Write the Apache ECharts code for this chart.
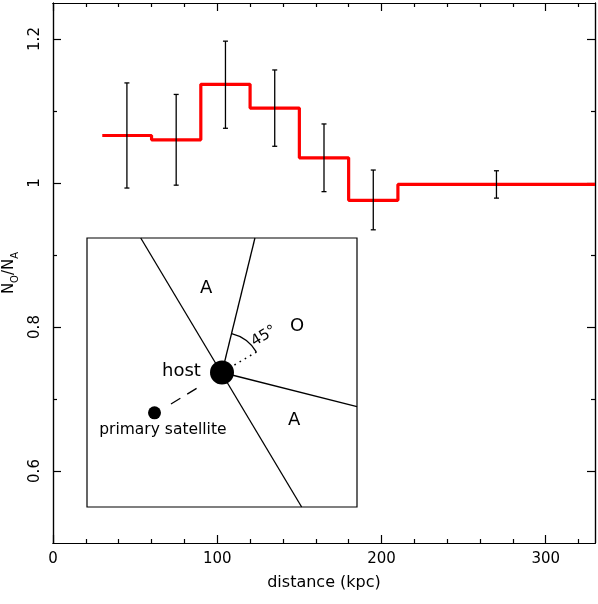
<!DOCTYPE html>
<html>
<head>
<meta charset="utf-8">
<script src="https://cdn.jsdelivr.net/npm/echarts@6/dist/echarts.min.js"></script>
<style>
  html, body { margin: 0; padding: 0; background: #fff; }
  #main { width: 598px; height: 604px; }
</style>
</head>
<body>
<div id="main"></div>
<script>
// step histogram: bin edges (kpc) and N_O/N_A per bin
var binEdges = [30, 60, 90, 120, 150, 180, 210, 330]
var ratio = [1.066, 1.060, 1.137, 1.104, 1.035, 0.976, 0.998]

// error bars
var errX = [45, 75, 105, 135, 165, 195, 270]
var errLow = [0.993, 0.997, 1.076, 1.051, 0.988, 0.935, 0.979]
var errHigh = [1.139, 1.123, 1.197, 1.157, 1.082, 1.018, 1.017]

// ticks
var xMajor = [0, 100, 200, 300]
var xMinor = [20, 40, 60, 80, 120, 140, 160, 180, 220, 240, 260, 280, 320]
var yMajor = [0.6, 0.8, 1.0, 1.2]
var yMinor = [0.7, 0.9, 1.1]

// inset sketch, in inset units (0..100 both ways)
var insetSolid = [[19.9, 100, 79.5, 0], [50, 50, 62.2, 100], [50, 50, 100, 37.3]]
var insetDashed = [[31.1, 38.3, 42.7, 45.4]]
var insetDotted = [[54.6, 52.8, 62.9, 57.7]]
var hostPos = [50, 50]
var satellitePos = [25, 35]
var arcAngles = [76, 31]
var insetLabels = [
  { name: 'A', value: [44.1, 81.4] },
  { name: 'O', value: [77.8, 67.3] },
  { name: 'A', value: [76.7, 32.3] }
]
var angleLabel = { name: '45°', value: [65.5, 63.5] }
var hostLabel = { name: 'host', value: [35.0, 50.3] }
var satLabel = { name: 'primary satellite', value: [28.1, 28.6] }

var FONT = 'DejaVu Sans'
var chart = echarts.init(document.getElementById('main'))

var stepData = binEdges.map(function (e, i) {
  return [e, ratio[Math.min(i, ratio.length - 1)]]
})
var errData = errX.map(function (x, i) {
  return [x, errLow[i], errHigh[i]]
})

function frameX (grid, pos, ticks, len, labels) {
  return {
    type: 'value', gridIndex: grid, position: pos, min: 0, max: 330,
    axisLine: { show: true, onZero: false, lineStyle: { color: '#000', width: 1.2 } },
    axisTick: { show: true, inside: true, length: len, customValues: ticks, lineStyle: { color: '#000', width: 1.2 } },
    axisLabel: labels ? { show: true, customValues: xMajor, margin: 9, fontSize: 15, color: '#000', fontFamily: FONT } : { show: false },
    splitLine: { show: false }
  }
}
function frameY (grid, pos, ticks, len, labels) {
  return {
    type: 'value', gridIndex: grid, position: pos, min: 0.5, max: 1.25,
    axisLine: { show: true, onZero: false, lineStyle: { color: '#000', width: 1.2 } },
    axisTick: { show: true, inside: true, length: len, customValues: ticks, lineStyle: { color: '#000', width: 1.2 } },
    axisLabel: labels ? { show: true, customValues: yMajor, rotate: 90, margin: 10, fontSize: 15, color: '#000', fontFamily: FONT } : { show: false },
    splitLine: { show: false }
  }
}

function segRender (dash, width) {
  return function (params, api) {
    var a = api.coord([api.value(0), api.value(1)])
    var b = api.coord([api.value(2), api.value(3)])
    return {
      type: 'line',
      shape: { x1: a[0], y1: a[1], x2: b[0], y2: b[1] },
      style: { stroke: '#000', lineWidth: width, lineDash: dash, fill: null }
    }
  }
}

var xAxes = [
  frameX(0, 'bottom', xMajor, 8, true),
  frameX(0, 'top', xMajor, 8, false),
  frameX(1, 'bottom', xMinor, 4, false),
  frameX(1, 'top', xMinor, 4, false),
  { type: 'value', gridIndex: 2, min: 0, max: 100, show: false }
]
xAxes[0].name = 'distance (kpc)'
xAxes[0].nameLocation = 'middle'
xAxes[0].nameGap = 32
xAxes[0].nameTextStyle = { fontSize: 16, color: '#000', fontFamily: FONT }

var yAxes = [
  frameY(0, 'left', yMajor, 8, true),
  frameY(0, 'right', yMajor, 8, false),
  frameY(1, 'left', yMinor, 4, false),
  frameY(1, 'right', yMinor, 4, false),
  { type: 'value', gridIndex: 2, min: 0, max: 100, show: false }
]
yAxes[0].name = '{n|N}{s|O}{n|/N}{s|A}'
yAxes[0].nameLocation = 'middle'
yAxes[0].nameRotate = 90
yAxes[0].nameGap = 30
yAxes[0].nameTextStyle = {
  color: '#000', fontFamily: FONT,
  rich: {
    n: { fontSize: 15, color: '#000', fontFamily: FONT, lineHeight: 18 },
    s: { fontSize: 10, color: '#000', fontFamily: FONT, verticalAlign: 'bottom', lineHeight: 22 }
  }
}

var textLabel = function (size) {
  return {
    show: true, position: 'inside', formatter: '{b}',
    fontSize: size, color: '#000', fontFamily: FONT
  }
}
var solid = { color: '#000', opacity: 1 }

chart.setOption({
  animation: false,
  backgroundColor: '#fff',
  grid: [
    { left: 53, top: 3, width: 542, height: 540, show: false, containLabel: false, outerBoundsMode: 'none' },
    { left: 53, top: 3, width: 542, height: 540, show: false, containLabel: false, outerBoundsMode: 'none' },
    { left: 87, top: 238, width: 270, height: 269, show: true, borderColor: '#000', borderWidth: 1.2, backgroundColor: 'transparent', containLabel: false, outerBoundsMode: 'none' }
  ],
  xAxis: xAxes,
  yAxis: yAxes,
  series: [
    {
      type: 'line', xAxisIndex: 0, yAxisIndex: 0,
      step: 'end', symbol: 'none', data: stepData,
      lineStyle: { color: '#ff0000', width: 3.2 }, z: 3
    },
    {
      type: 'custom', xAxisIndex: 0, yAxisIndex: 0, data: errData, z: 4,
      encode: { x: 0, y: [1, 2] },
      renderItem: function (params, api) {
        var x = api.value(0)
        var lo = api.coord([x, api.value(1)])
        var hi = api.coord([x, api.value(2)])
        var w = 2.5
        var st = { stroke: '#000', lineWidth: 1.3 }
        return {
          type: 'group',
          children: [
            { type: 'line', shape: { x1: lo[0], y1: lo[1], x2: hi[0], y2: hi[1] }, style: st },
            { type: 'line', shape: { x1: lo[0] - w, y1: lo[1], x2: lo[0] + w, y2: lo[1] }, style: st },
            { type: 'line', shape: { x1: hi[0] - w, y1: hi[1], x2: hi[0] + w, y2: hi[1] }, style: st }
          ]
        }
      }
    },
    {
      type: 'custom', xAxisIndex: 4, yAxisIndex: 4, data: insetSolid,
      renderItem: segRender(null, 1.3)
    },
    {
      type: 'custom', xAxisIndex: 4, yAxisIndex: 4, data: insetDashed,
      renderItem: segRender([11, 8], 1.3)
    },
    {
      type: 'custom', xAxisIndex: 4, yAxisIndex: 4, data: insetDotted,
      renderItem: segRender([1.6, 4.4], 1.6)
    },
    {
      type: 'custom', xAxisIndex: 4, yAxisIndex: 4, data: [hostPos],
      renderItem: function (params, api) {
        var c = api.coord([api.value(0), api.value(1)])
        return {
          type: 'arc',
          shape: { cx: c[0], cy: c[1], r: 40, startAngle: -arcAngles[0] * Math.PI / 180, endAngle: -arcAngles[1] * Math.PI / 180, clockwise: true },
          style: { stroke: '#000', lineWidth: 1.3, fill: null }
        }
      }
    },
    {
      type: 'scatter', xAxisIndex: 4, yAxisIndex: 4, data: [hostPos],
      symbol: 'circle', symbolSize: 24, itemStyle: solid, z: 5
    },
    {
      type: 'scatter', xAxisIndex: 4, yAxisIndex: 4, data: [satellitePos],
      symbol: 'circle', symbolSize: 13, itemStyle: solid, z: 5
    },
    {
      type: 'scatter', xAxisIndex: 4, yAxisIndex: 4, data: insetLabels,
      symbolSize: 0, itemStyle: solid, label: textLabel(18)
    },
    {
      type: 'scatter', xAxisIndex: 4, yAxisIndex: 4, data: [angleLabel],
      symbolSize: 0, itemStyle: solid, label: Object.assign(textLabel(15), { rotate: 31 })
    },
    {
      type: 'scatter', xAxisIndex: 4, yAxisIndex: 4, data: [hostLabel],
      symbolSize: 0, itemStyle: solid, label: textLabel(18)
    },
    {
      type: 'scatter', xAxisIndex: 4, yAxisIndex: 4, data: [satLabel],
      symbolSize: 0, itemStyle: solid, label: textLabel(15.5)
    }
  ]
})
</script>
</body>
</html>
